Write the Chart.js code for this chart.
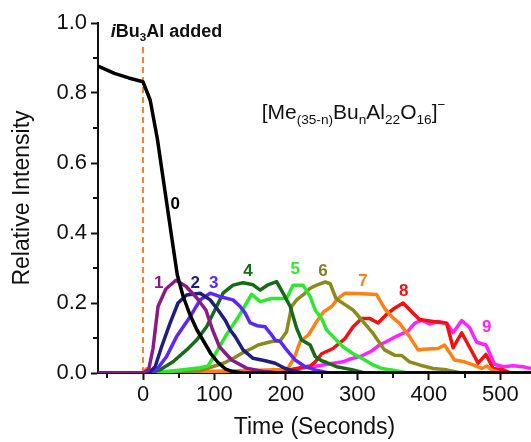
<!DOCTYPE html>
<html>
<head>
<meta charset="utf-8">
<script src="https://cdn.jsdelivr.net/npm/chart.js@4.4.1/dist/chart.umd.min.js"></script>
<style>
  html, body { margin: 0; padding: 0; background: #fff; }
</style>
</head>
<body>
<canvas id="chart" width="531" height="442"></canvas>
<script>
// time (s) / relative intensity, one pair per species n = 0..9
const t0 = [-63, -40, -20, 0, 10, 20, 30, 40, 48, 56, 65, 75, 85, 95, 105, 115, 125, 140, 543];
const v0 = [0.877, 0.856, 0.843, 0.832, 0.78, 0.67, 0.53, 0.39, 0.28, 0.22, 0.17, 0.125, 0.09, 0.055, 0.03, 0.012, 0.004, 0, 0];
const t1 = [-63, 0, 8, 14, 21, 32, 46, 60, 75, 88, 97, 107, 124, 145, 170, 190, 543];
const v1 = [0, 0, 0.01, 0.07, 0.19, 0.24, 0.265, 0.248, 0.215, 0.18, 0.125, 0.075, 0.037, 0.014, 0.004, 0, 0];
const t2 = [-63, 0, 10, 17, 26, 38, 49, 61, 80, 94, 105, 115, 122, 129, 140, 154, 171, 185, 199, 210, 225, 543];
const v2 = [0, 0, 0.004, 0.018, 0.075, 0.143, 0.2, 0.223, 0.228, 0.209, 0.18, 0.151, 0.123, 0.104, 0.066, 0.042, 0.035, 0.028, 0.013, 0.006, 0, 0];
const t3 = [-63, 0, 10, 19, 33, 47, 66, 80, 94, 108, 126, 136, 143, 150, 160, 171, 178, 185, 192, 201, 213, 227, 241, 260, 543];
const v3 = [0, 0, 0.002, 0.009, 0.047, 0.104, 0.161, 0.209, 0.228, 0.218, 0.209, 0.19, 0.171, 0.143, 0.135, 0.132, 0.114, 0.094, 0.09, 0.066, 0.037, 0.018, 0.009, 0, 0];
const t4 = [-63, 0, 7, 24, 42, 61, 75, 89, 103, 112, 126, 140, 154, 164, 175, 187, 196, 206, 215, 222, 234, 241, 250, 257, 271, 294, 310, 543];
const v4 = [0, 0, 0, 0.009, 0.032, 0.066, 0.094, 0.132, 0.19, 0.228, 0.251, 0.258, 0.252, 0.237, 0.252, 0.261, 0.228, 0.19, 0.128, 0.094, 0.08, 0.047, 0.035, 0.03, 0.018, 0.009, 0, 0];
const t5 = [-63, 0, 20, 50, 80, 91, 100, 117, 135, 152, 164, 180, 201, 210, 224, 234, 241, 250, 257, 266, 280, 294, 308, 322, 334, 350, 370, 543];
const v5 = [0, 0, 0.002, 0.008, 0.015, 0.02, 0.05, 0.11, 0.165, 0.225, 0.204, 0.213, 0.213, 0.251, 0.251, 0.218, 0.18, 0.155, 0.123, 0.104, 0.075, 0.055, 0.04, 0.023, 0.013, 0.008, 0, 0];
const t6 = [-63, 0, 40, 80, 115, 129, 143, 152, 161, 180, 192, 201, 208, 215, 224, 234, 243, 255, 262, 270, 280, 294, 308, 322, 338, 352, 362, 373, 387, 406, 425, 445, 543];
const v6 = [0, 0, 0.002, 0.006, 0.03, 0.045, 0.062, 0.07, 0.08, 0.09, 0.092, 0.118, 0.19, 0.209, 0.223, 0.242, 0.251, 0.26, 0.255, 0.213, 0.199, 0.18, 0.147, 0.113, 0.066, 0.051, 0.05, 0.032, 0.023, 0.013, 0.009, 0, 0];
const t7 = [-63, 0, 5, 12, 30, 100, 163, 192, 203, 212, 220, 232, 243, 253, 264, 273, 283, 300, 327, 338, 348, 359, 373, 385, 392, 413, 422, 436, 450, 462, 474, 481, 488, 500, 543];
const v7 = [0, 0, 0.012, 0.004, 0.003, 0.005, 0.008, 0.01, 0.014, 0.045, 0.09, 0.11, 0.147, 0.175, 0.19, 0.213, 0.228, 0.227, 0.224, 0.185, 0.161, 0.142, 0.104, 0.066, 0.068, 0.07, 0.08, 0.037, 0.032, 0.023, 0.013, 0.02, 0.009, 0, 0];
const t8 = [-63, 0, 150, 200, 220, 234, 241, 250, 266, 283, 294, 306, 317, 329, 341, 352, 364, 376, 387, 406, 425, 434, 446, 458, 469, 480, 490, 504, 515, 543];
const v8 = [0, 0, 0.002, 0.006, 0.015, 0.02, 0.032, 0.055, 0.07, 0.099, 0.132, 0.156, 0.156, 0.143, 0.168, 0.185, 0.2, 0.175, 0.153, 0.147, 0.142, 0.072, 0.115, 0.07, 0.028, 0.053, 0.013, 0.009, 0, 0];
const t9 = [-63, 0, 150, 200, 238, 266, 280, 290, 305, 320, 331, 341, 350, 359, 371, 380, 390, 401, 413, 425, 434, 446, 457, 467, 480, 492, 504, 518, 532, 543];
const v9 = [0, 0, 0.003, 0.008, 0.018, 0.028, 0.032, 0.04, 0.048, 0.063, 0.08, 0.09, 0.1, 0.109, 0.12, 0.142, 0.151, 0.14, 0.147, 0.142, 0.115, 0.15, 0.13, 0.088, 0.08, 0.025, 0.018, 0.021, 0.018, 0.013];

const seriesNames = ['0', '1', '2', '3', '4', '5', '6', '7', '8', '9'];
const seriesTimes = [t0, t1, t2, t3, t4, t5, t6, t7, t8, t9];
const seriesValues = [v0, v1, v2, v3, v4, v5, v6, v7, v8, v9];

// where each number label sits (data units)
const labelT = [45, 22, 73, 99, 147, 213, 252, 308, 365, 481];
const labelV = [0.483, 0.257, 0.257, 0.257, 0.291, 0.297, 0.291, 0.263, 0.234, 0.131];

const xTicks = [0, 100, 200, 300, 400, 500];
const xMinor = [-50, 50, 150, 250, 350, 450];
const yTicks = [0, 0.2, 0.4, 0.6, 0.8, 1.0];
const yMinor = [0.1, 0.3, 0.5, 0.7, 0.9];

const addedAt = 0;      // iBu3Al addition time
const addedTop = 0.935;

const lineColors = ['#000000', '#8b1a89', '#1e1e7e', '#5a28f5', '#176b17', '#2de82d', '#8a8a1e', '#ff8012', '#f21010', '#ff22ff'];
const labelColors = ['#000000', '#8b1a89', '#1e1e7e', '#5a28f5', '#176b17', '#2de82d', '#8a7a28', '#ff8012', '#f21010', '#ff22ff'];

const FONT = 'Arial, "Liberation Sans", sans-serif';

function pts(ts, vs) {
    return ts.map((t, i) => ({ x: t, y: vs[i] }));
}

const datasets = seriesNames.map((name, i) => ({
    label: name,
    data: pts(seriesTimes[i], seriesValues[i]),
    borderColor: lineColors[i],
    borderWidth: 3.5
}));
datasets.push({
    label: 'added',
    data: [{ x: addedAt, y: 0 }, { x: addedAt, y: addedTop }],
    borderColor: '#ff7f2a',
    borderWidth: 2,
    borderDash: [6, 4]
});

// draws text pieces: [text, kind] kind = '' | 'i' | 'sub' | 'sup'
function drawRich(ctx, x, y, parts, size, weight) {
    ctx.textBaseline = 'alphabetic';
    ctx.textAlign = 'left';
    parts.forEach(([txt, kind]) => {
        let s = size, dy = 0, style = '';
        if (kind === 'sub') { s = size * 0.65; dy = size * 0.22; }
        if (kind === 'sup') { s = size * 0.65; dy = -size * 0.45; }
        if (kind === 'i') style = 'italic ';
        ctx.font = style + weight + ' ' + s + 'px ' + FONT;
        ctx.fillText(txt, x, y + dy);
        x += ctx.measureText(txt).width;
    });
}

const extras = {
    id: 'extras',
    afterDraw(chart) {
        const ctx = chart.ctx;
        const xs = chart.scales.x, ys = chart.scales.y;
        ctx.save();
        // minor ticks
        ctx.strokeStyle = '#111';
        ctx.lineWidth = 2;
        xMinor.forEach(v => {
            const px = Math.round(xs.getPixelForValue(v));
            ctx.beginPath();
            ctx.moveTo(px, ys.bottom);
            ctx.lineTo(px, ys.bottom + 5);
            ctx.stroke();
        });
        yMinor.forEach(v => {
            const py = Math.round(ys.getPixelForValue(v));
            ctx.beginPath();
            ctx.moveTo(xs.left, py);
            ctx.lineTo(xs.left - 5, py);
            ctx.stroke();
        });

        // series numbers
        ctx.textAlign = 'center';
        ctx.textBaseline = 'middle';
        ctx.font = 'bold 17px ' + FONT;
        seriesNames.forEach((n, i) => {
            ctx.fillStyle = labelColors[i];
            ctx.fillText(n, xs.getPixelForValue(labelT[i]), ys.getPixelForValue(labelV[i]));
        });

        ctx.fillStyle = '#111';
        drawRich(ctx, xs.getPixelForValue(-45), ys.getPixelForValue(0.96),
            [['i', 'i'], ['Bu', ''], ['3', 'sub'], ['Al added', '']], 18, 'bold');
        drawRich(ctx, xs.getPixelForValue(166), ys.getPixelForValue(0.726),
            [['[Me', ''], ['(35-n)', 'sub'], ['Bu', ''], ['n', 'sub'], ['Al', ''], ['22', 'sub'],
             ['O', ''], ['16', 'sub'], [']', ''], ['\u2212', 'sup']], 21, 'normal');
        ctx.restore();
    }
};

new Chart(document.getElementById('chart'), {
    type: 'line',
    data: { datasets },
    options: {
        responsive: false,
        animation: false,
        devicePixelRatio: 1,
        layout: { padding: { top: 23, right: 0, left: 0, bottom: 0 } },
        plugins: { legend: { display: false }, tooltip: { enabled: false } },
        elements: {
            point: { radius: 0 },
            line: { tension: 0, borderJoinStyle: 'round', borderCapStyle: 'butt' }
        },
        scales: {
            x: {
                type: 'linear',
                min: -63,
                max: 543,
                afterBuildTicks: s => { s.ticks = xTicks.map(v => ({ value: v })); },
                afterFit: s => { s.height = 69; },
                border: { color: '#111', width: 2 },
                grid: { drawOnChartArea: false, tickLength: 7, tickWidth: 2, tickColor: '#111' },
                ticks: { color: '#111', font: { size: 22, family: FONT }, padding: 2, maxRotation: 0 },
                title: { display: true, text: 'Time (Seconds)', color: '#111', font: { size: 23, family: FONT }, padding: { top: 0, bottom: 1 } }
            },
            y: {
                type: 'linear',
                min: 0,
                max: 1,
                afterBuildTicks: s => { s.ticks = yTicks.map(v => ({ value: v })); },
                afterFit: s => { s.width = 98; },
                border: { color: '#111', width: 2 },
                grid: { drawOnChartArea: false, tickLength: 7, tickWidth: 2, tickColor: '#111' },
                ticks: { color: '#111', font: { size: 22, family: FONT }, padding: 4, callback: v => v.toFixed(1) },
                title: { display: true, text: 'Relative Intensity', color: '#111', font: { size: 23, family: FONT }, padding: { top: 9, bottom: 0 } }
            }
        }
    },
    plugins: [extras]
});
</script>
</body>
</html>
